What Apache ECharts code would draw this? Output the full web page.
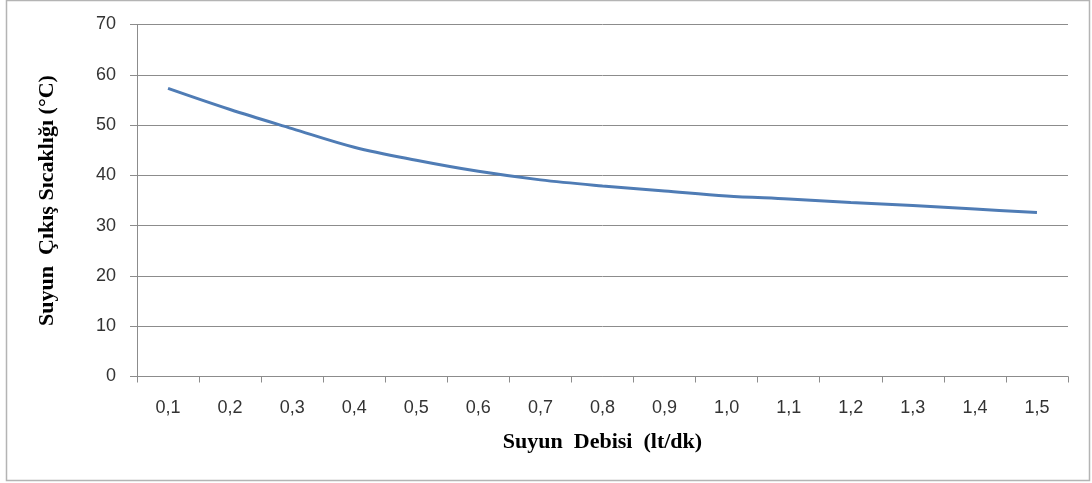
<!DOCTYPE html>
<html>
<head>
<meta charset="utf-8">
<script src="https://cdn.jsdelivr.net/npm/echarts@6/dist/echarts.min.js"></script>
<style>
  html, body { margin: 0; padding: 0; background: #fff; }
  #chart { width: 1092px; height: 483px; }
</style>
</head>
<body>
<div id="chart"></div>
<script>
// Flow rate categories (lt/dk)
const flowRates = ['0,1', '0,2', '0,3', '0,4', '0,5', '0,6', '0,7', '0,8', '0,9', '1,0', '1,1', '1,2', '1,3', '1,4', '1,5'];
// Water outlet temperature (°C)
const outletTemps = [57.3, 53.1, 49.3, 45.6, 43.0, 40.8, 39.1, 37.9, 36.9, 35.9, 35.3, 34.6, 34.0, 33.3, 32.6];
const yTicks = { min: 0, max: 70, interval: 10 };

const chart = echarts.init(document.getElementById('chart'), null, { renderer: 'canvas' });

const labelFont = '"Liberation Sans", Arial, sans-serif';
const nameFont = '"Liberation Serif", "Times New Roman", serif';
const gridColor = '#8c8c8c';

chart.setOption({
  animation: false,
  backgroundColor: '#ffffff',
  graphic: [{
    type: 'rect',
    shape: { x: 6.5, y: 0.5, width: 1083, height: 480 },
    style: { fill: 'none', stroke: '#b4b4b4', lineWidth: 1.5 },
    silent: true
  }],
  grid: { left: 137, right: 24, top: 24.5, bottom: 106.5 },
  xAxis: {
    type: 'category',
    data: flowRates,
    boundaryGap: true,
    name: 'Suyun  Debisi  (lt/dk)',
    nameLocation: 'middle',
    nameGap: 55,
    nameTextStyle: { fontFamily: nameFont, fontWeight: 'bold', fontSize: 22, color: '#000' },
    axisLine: { lineStyle: { color: gridColor, width: 1 } },
    axisTick: { show: true, alignWithLabel: false, length: 6, lineStyle: { color: gridColor } },
    axisLabel: { fontFamily: labelFont, fontSize: 18, color: '#333', margin: 23 },
    splitLine: { show: false }
  },
  yAxis: {
    type: 'value',
    min: yTicks.min,
    max: yTicks.max,
    interval: yTicks.interval,
    name: 'Suyun  Çıkış Sıcaklığı (°C)',
    nameLocation: 'middle',
    nameGap: 79,
    nameRotate: 90,
    nameTextStyle: { fontFamily: nameFont, fontWeight: 'bold', fontSize: 22, color: '#000' },
    axisLine: { show: true, lineStyle: { color: gridColor, width: 1 } },
    axisTick: { show: true, length: 7, lineStyle: { color: gridColor } },
    axisLabel: { fontFamily: labelFont, fontSize: 18, color: '#333', margin: 21 },
    splitLine: { show: true, lineStyle: { color: gridColor, width: 1 } }
  },
  series: [{
    type: 'line',
    data: outletTemps,
    smooth: 0.35,
    symbol: 'none',
    lineStyle: { color: '#4f7cb5', width: 3 },
    itemStyle: { color: '#4f7cb5' }
  }]
});
</script>
</body>
</html>
